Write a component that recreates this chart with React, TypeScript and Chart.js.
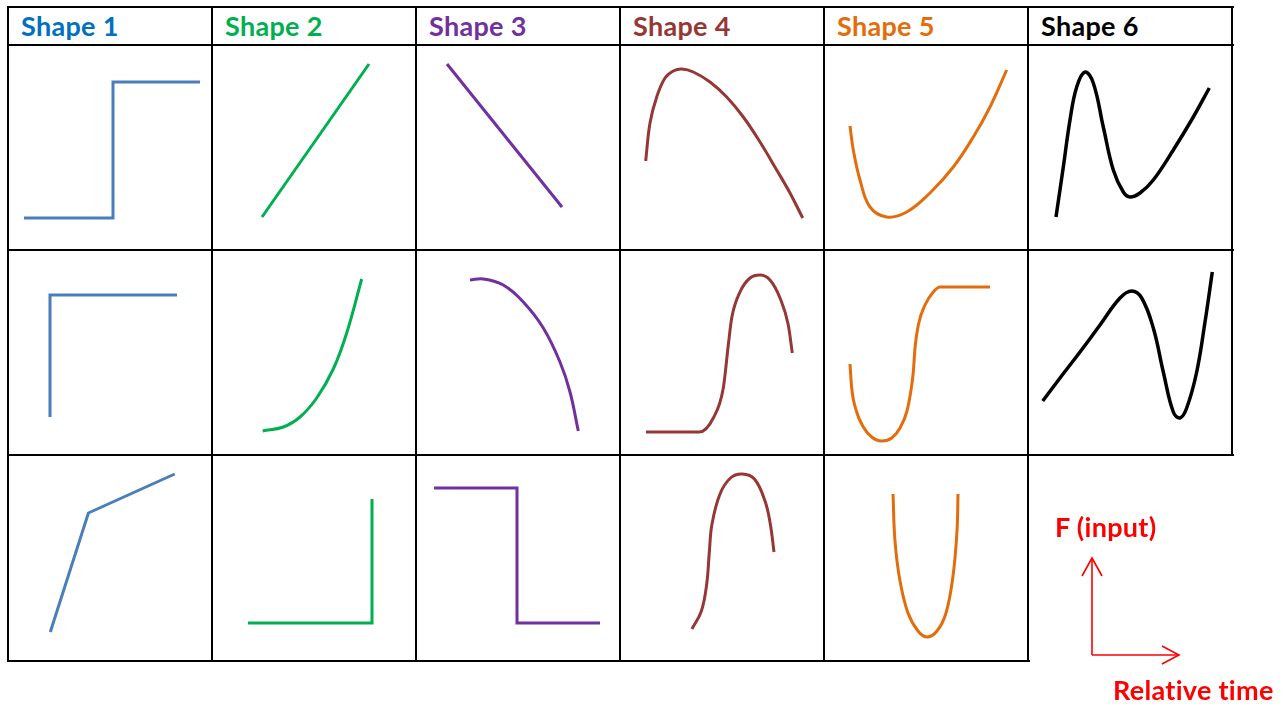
import React, { useEffect, useRef } from "react";
import { Chart, registerables } from "chart.js";

Chart.register(...registerables);

// ---------- data ----------
const headerLabels = ["Shape 1", "Shape 2", "Shape 3", "Shape 4", "Shape 5", "Shape 6"];
const headerColors = ["#0070c0", "#00b050", "#7030a0", "#953735", "#e46c0a", "#000000"];
const curveColors = ["#4a7ebb", "#00b050", "#7030a0", "#953735", "#e46c0a", "#000000"];
const axisLabelY = "F (input)";
const axisLabelX = "Relative time";

// [relative time, F] pairs for each cell (row, column)
const shape1Row1 = [[16, 32], [105, 32], [105, 168], [192, 168]];
const shape2Row1 = [[50, 33], [157, 186]];
const shape3Row1 = [[31, 186], [146, 43]];
const shape4Row1 = [[25.7, 89], [30, 127], [36.7, 153], [45, 172], [53.3, 179], [61.7, 181], [73.3, 178], [90, 168], [106.7, 153], [123.3, 133], [140, 108], [156.7, 80], [170, 57], [182.7, 32]];
const shape5Row1 = [[26, 124], [29.3, 100], [36, 70], [46, 43], [62.7, 33], [82.7, 38], [106, 57], [129.3, 83], [149.3, 113], [166, 143], [182.7, 180]];
const shape6Row1 = [[28, 33], [35.3, 83], [42, 130], [48.7, 163], [57, 178], [65.3, 167], [75.3, 123], [85.3, 80], [95.3, 58], [102, 53], [112, 57], [125.3, 70], [145.3, 100], [165.3, 133], [181.3, 162]];

const shape1Row2 = [[42, 38], [42, 160], [169, 160]];
const shape2Row2 = [[50.7, 24], [71.3, 28], [88, 38], [104.7, 57], [121.3, 86], [134.7, 122], [149.7, 176]];
const shape3Row2 = [[54, 175], [67.3, 176], [87.3, 170], [107.3, 153], [127.3, 127], [144, 93], [154, 63], [162.3, 24]];
const shape4Row2 = [[26, 23], [79.3, 23], [93.3, 37], [103.3, 67], [108.3, 110], [111.7, 137], [120, 163], [130, 177], [140, 180], [150, 175], [160, 157], [168.3, 130], [172.3, 102]];
const shape5Row2 = [[26, 91], [27.7, 67], [32.7, 43], [39.3, 28], [47.7, 18], [57.7, 14], [67.7, 17], [76, 27], [82.7, 43], [86.7, 63], [89.3, 83], [91, 107], [94.3, 130], [101, 150], [109.3, 163], [116, 168], [166, 168]];
const shape6Row2 = [[14.7, 54], [32, 77], [52, 103], [72, 130], [92, 157], [103.7, 164], [113.7, 157], [125.3, 127], [135.3, 83], [145.3, 43], [152, 37], [158.7, 47], [168.7, 83], [177, 133], [184.3, 183]];

const shape1Row3 = [[42.3, 29], [80.4, 148], [166.7, 187]];
const shape2Row3 = [[36, 38], [160, 38], [160, 162]];
const shape3Row3 = [[18, 173], [101, 173], [101, 38], [184, 38]];
const shape4Row3 = [[71.9, 32], [81.4, 50], [86.7, 77], [89.4, 110], [92, 137], [100, 167], [110.5, 183], [122.2, 187], [134.4, 182], [145, 160], [150.3, 137], [154, 109]];
const shape5Row3 = [[69, 167], [71, 120], [76, 80], [84, 48], [94, 30], [103, 24], [113, 30], [122, 48], [129, 85], [133, 130], [134, 167]];

const arrowUpShaft = [[64, 49], [64, 146]];
const arrowUpHead = [[54, 128], [64, 146], [74, 128]];
const arrowRightShaft = [[64, 49], [151, 49]];
const arrowRightHead = [[134, 58], [151, 49], [134, 40]];

// ---------- layout ----------
const COL_X = [8, 212, 416, 620, 824, 1028, 1232];
const ROW_Y = [7, 45, 250, 455, 661];
const FONT = "Lato, 'Open Sans', sans-serif";

// interpolation: "line" straight, "bezier" smooth, "mono" monotone cubic
type Cell = { pts: number[][]; col: number; row: number; mode: string };

const cells: Cell[] = [
  { pts: shape1Row1, col: 0, row: 0, mode: "line" },
  { pts: shape2Row1, col: 1, row: 0, mode: "line" },
  { pts: shape3Row1, col: 2, row: 0, mode: "line" },
  { pts: shape4Row1, col: 3, row: 0, mode: "bezier" },
  { pts: shape5Row1, col: 4, row: 0, mode: "bezier" },
  { pts: shape6Row1, col: 5, row: 0, mode: "bezier" },
  { pts: shape1Row2, col: 0, row: 1, mode: "line" },
  { pts: shape2Row2, col: 1, row: 1, mode: "bezier" },
  { pts: shape3Row2, col: 2, row: 1, mode: "bezier" },
  { pts: shape4Row2, col: 3, row: 1, mode: "mono" },
  { pts: shape5Row2, col: 4, row: 1, mode: "mono" },
  { pts: shape6Row2, col: 5, row: 1, mode: "bezier" },
  { pts: shape1Row3, col: 0, row: 2, mode: "line" },
  { pts: shape2Row3, col: 1, row: 2, mode: "line" },
  { pts: shape3Row3, col: 2, row: 2, mode: "line" },
  { pts: shape4Row3, col: 3, row: 2, mode: "bezier" },
  { pts: shape5Row3, col: 4, row: 2, mode: "bezier" },
];

type Series = { pts: number[][]; color: string; width: number; mode: string };

function MiniChart(props: { series: Series[]; left: number; top: number; w: number; h: number }) {
  const ref = useRef<HTMLCanvasElement | null>(null);
  const { series, left, top, w, h } = props;
  useEffect(() => {
    if (!ref.current) return;
    const chart = new Chart(ref.current, {
      type: "line",
      data: {
        datasets: series.map((s) => ({
          data: s.pts.map(([x, y]) => ({ x, y })),
          borderColor: s.color,
          borderWidth: s.width,
          pointRadius: 0,
          fill: false,
          tension: s.mode === "line" ? 0 : 0.4,
          cubicInterpolationMode: s.mode === "mono" ? "monotone" : "default",
          borderCapStyle: "butt",
          borderJoinStyle: "miter",
        })),
      },
      options: {
        animation: false,
        responsive: false,
        maintainAspectRatio: false,
        events: [],
        layout: { padding: 0 },
        clip: false as any,
        scales: {
          x: { type: "linear", min: 0, max: w, display: false },
          y: { type: "linear", min: 0, max: h, display: false },
        },
        plugins: { legend: { display: false }, tooltip: { enabled: false } },
      } as any,
    } as any);
    return () => chart.destroy();
  }, []);
  return (
    <canvas
      ref={ref}
      width={w}
      height={h}
      style={{ position: "absolute", left, top, width: w, height: h }}
    />
  );
}

function Line(props: { x: number; y: number; w: number; h: number }) {
  return (
    <div
      style={{
        position: "absolute",
        left: props.x,
        top: props.y,
        width: props.w,
        height: props.h,
        background: "#000",
        zIndex: 2,
      }}
    />
  );
}

const textStyle = {
  position: "absolute" as const,
  lineHeight: "38px",
  fontFamily: FONT,
  fontWeight: 700,
  fontSize: 27,
  letterSpacing: "0.3px",
  whiteSpace: "nowrap" as const,
};

export default function App() {
  const lines: any[] = [];
  lines.push(<Line key="h0" x={7} y={6} w={1227} h={2} />);
  lines.push(<Line key="h1" x={7} y={44} w={1227} h={2} />);
  lines.push(<Line key="h2" x={7} y={249} w={1227} h={2} />);
  lines.push(<Line key="h3" x={7} y={454} w={1227} h={2} />);
  lines.push(<Line key="h4" x={7} y={660} w={1023} h={2} />);
  COL_X.forEach((cx, i) => {
    const bottom = i === 6 ? 456 : 662;
    lines.push(<Line key={"v" + i} x={cx - 1} y={6} w={2} h={bottom - 6} />);
  });

  return (
    <div style={{ position: "relative", width: 1286, height: 704, background: "#fff", overflow: "hidden" }}>
      <style>{`body{margin:0;background:#fff}`}</style>
      {headerLabels.map((t, i) => (
        <div key={t} style={{ ...textStyle, left: COL_X[i] + 13, top: 7, height: 38, color: headerColors[i] }}>
          {t}
        </div>
      ))}
      {cells.map((c, i) => {
        const top = ROW_Y[c.row + 1];
        const h = ROW_Y[c.row + 2] - top;
        return (
          <MiniChart
            key={i}
            left={COL_X[c.col]}
            top={top}
            w={204}
            h={h}
            series={[{ pts: c.pts, color: curveColors[c.col], width: c.col === 5 ? 3.5 : 3, mode: c.mode }]}
          />
        );
      })}
      <MiniChart
        left={1028}
        top={455}
        w={258}
        h={249}
        series={[
          { pts: arrowUpShaft, color: "#ff0000", width: 1.6, mode: "line" },
          { pts: arrowUpHead, color: "#ff0000", width: 1.6, mode: "line" },
          { pts: arrowRightShaft, color: "#ff0000", width: 1.6, mode: "line" },
          { pts: arrowRightHead, color: "#ff0000", width: 1.6, mode: "line" },
        ]}
      />
      <div style={{ ...textStyle, left: 1055, top: 508, color: "#ff0000" }}>{axisLabelY}</div>
      <div style={{ ...textStyle, left: 1113, top: 671, color: "#ff0000" }}>{axisLabelX}</div>
      {lines}
    </div>
  );
}
